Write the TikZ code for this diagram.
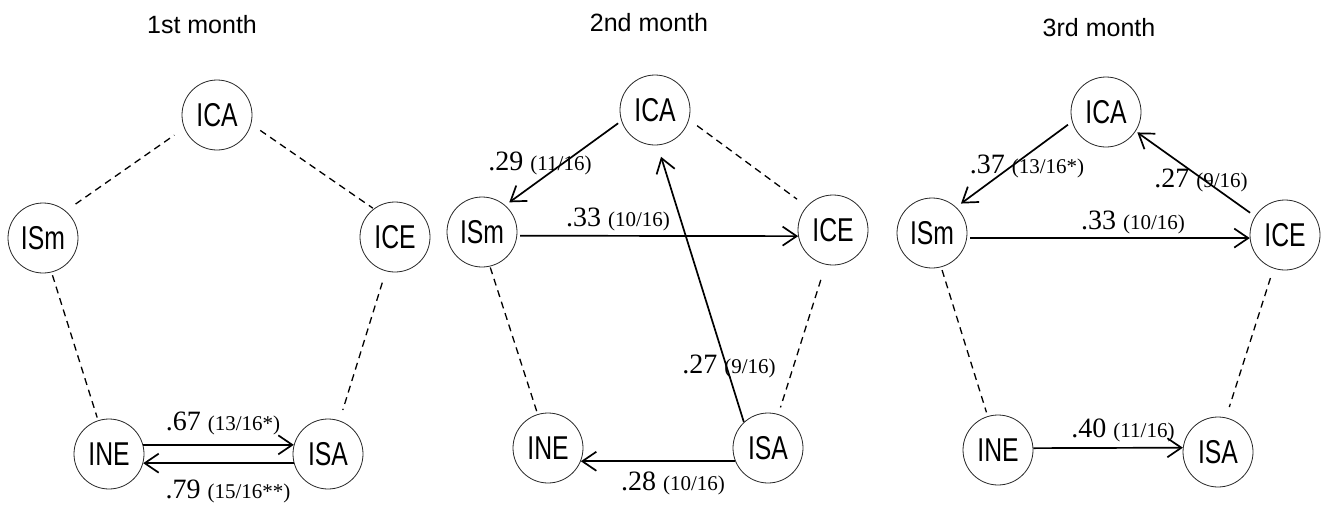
\documentclass[tikz,border=0pt]{standalone}
\usepackage{fontspec}
\usetikzlibrary{arrows.meta}
\newfontfamily\nodefont[FakeStretch=0.75]{Liberation Sans}
\newfontfamily\titlefont{Liberation Sans}
\newfontfamily\numfont{Liberation Serif}
% coefficient label: large value, smaller count in parentheses
\newcommand\coef[2]{{\numfont\fontsize{28}{30}\selectfont #1\ }{\numfont\fontsize{21}{24}\selectfont #2}}
\tikzset{
  var/.style={circle, draw=black!85, line width=0.8pt, minimum size=70pt, inner sep=0pt,
              font=\nodefont\fontsize{33}{36}\selectfont},
  ttl/.style={anchor=base, font=\titlefont\fontsize{25}{28}\selectfont},
  lbl/.style={anchor=base, inner sep=0pt},
  corr/.style={line width=1.3pt, dash pattern=on 7pt off 5pt},
  path/.style={line width=1.7pt, -{Straight Barb[length=14pt,width=19pt,line width=1.7pt]}}
}
\begin{document}
\begin{tikzpicture}[x=1pt,y=-1pt]
\useasboundingbox (0,0) rectangle (1322,504);

% ---------- 1st month ----------
\node[ttl] (t1) at (202,33) {1st month};
\node[var] (a1) at (217,115) {ICA};
\node[var] (m1) at (43,238) {ISm};
\node[var] (e1) at (395,237) {ICE};
\node[var] (n1) at (109,454) {INE};
\node[var] (s1) at (328,454) {ISA};
\draw[corr, shorten <=12pt, shorten >=12pt] (m1.50) -- (a1.202);
\draw[corr, shorten <=11pt, shorten >=1pt] (a1.-15) -- (e1.127);
\draw[corr, shorten <=3pt, shorten >=3pt] (m1.-76) -- (n1.108);
\draw[corr, shorten <=12pt, shorten >=11pt] (e1.-105) -- (s1.71);
\draw[path] (n1.15) -- (s1.165);
\draw[path] (s1.195) -- (n1.-15);
\node[lbl] (c11) at (223,430) {\coef{.67}{(13/16*)}};
\node[lbl] (c12) at (228,498) {\coef{.79}{(15/16**)}};

% ---------- 2nd month ----------
\node[ttl] (t2) at (649,31) {2nd month};
\node[var] (a2) at (655,110) {ICA};
\node[var] (m2) at (482,232) {ISm};
\node[var] (e2) at (833,230) {ICE};
\node[var] (n2) at (548,448) {INE};
\node[var] (s2) at (768,448) {ISA};
\draw[corr, shorten <=10pt, shorten >=12pt] (a2.-16) -- (e2.138);
\draw[corr, shorten <=1pt, shorten >=3pt] (m2.-77) -- (n2.107);
\draw[corr, shorten <=16pt, shorten >=7pt] (e2.-102) -- (s2.73);
\draw[path, shorten <=4pt, shorten >=5pt] (a2.198) -- (m2.49);
\draw[path, shorten <=3pt] (m2.-6) -- (e2.190);
\draw[path, shorten >=12pt] (s2.133) -- (a2.-86);
\draw[path] (s2.202) -- (n2.-22);
\node[lbl] (c21) at (540,170) {\coef{.29}{(11/16)}};
\node[lbl] (c22) at (618,226) {\coef{.33}{(10/16)}};
\node[lbl] (c23) at (729,373) {\coef{.27}{(9/16)}};
\node[lbl] (c24) at (673,490) {\coef{.28}{(10/16)}};

% ---------- 3rd month ----------
\node[ttl] (t3) at (1099,36) {3rd month};
\node[var] (a3) at (1106,112) {ICA};
\node[var] (m3) at (932,233) {ISm};
\node[var] (e3) at (1285,235) {ICE};
\node[var] (n3) at (998,450) {INE};
\node[var] (s3) at (1218,452) {ISA};
\draw[corr, shorten <=3pt, shorten >=4pt] (m3.-75) -- (n3.107);
\draw[corr, shorten <=10pt, shorten >=11pt] (e3.-109) -- (s3.77);
\draw[path, shorten <=5pt, shorten >=6pt] (a3.196) -- (m3.47);
\draw[path, shorten <=6pt, shorten >=2pt] (e3.148) -- (a3.-33);
\draw[path, shorten <=3pt] (m3.-8) -- (e3.185);
\draw[path] (n3.3) -- (s3.173);
\node[lbl] (c31) at (1027,173) {\coef{.37}{(13/16*)}};
\node[lbl] (c32) at (1201,187) {\coef{.27}{(9/16)}};
\node[lbl] (c33) at (1133,229) {\coef{.33}{(10/16)}};
\node[lbl] (c34) at (1123,437) {\coef{.40}{(11/16)}};
\end{tikzpicture}
\end{document}
